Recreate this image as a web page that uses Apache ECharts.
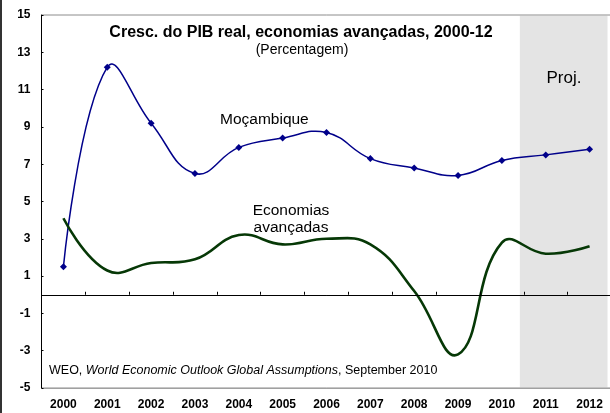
<!DOCTYPE html>
<html>
<head>
<meta charset="utf-8">
<script src="https://cdn.jsdelivr.net/npm/echarts@6/dist/echarts.min.js"></script>
<style>html,body{margin:0;padding:0;background:#fff}#chart{width:610px;height:413px}</style>
</head>
<body>
<div id="chart"></div>
<script>
var years = ['2000', '2001', '2002', '2003', '2004', '2005', '2006', '2007', '2008', '2009', '2010', '2011', '2012'];
var mozambique = [1.5, 12.2, 9.2, 6.5, 7.9, 8.4, 8.7, 7.3, 6.8, 6.4, 7.2, 7.5, 7.8];
var advanced = [4.1, 1.3, 1.7, 1.9, 3.2, 2.7, 3.0, 2.7, 0.2, -3.2, 2.8, 2.2, 2.6];
var yTicks = [-5, -3, -1, 1, 3, 5, 7, 9, 11, 13, 15];

var FONT = 'Liberation Sans';
var myChart = echarts.init(document.getElementById('chart'));

// Excel-like smoothed curve (may overshoot), drawn once through all points
function curve(values, color, width) {
  return {
    type: 'custom', xAxisIndex: 0, yAxisIndex: 0, z: 3, silent: true,
    data: values.map(function (v, i) { return [i, v]; }),
    encode: { x: 0, y: 1 },
    renderItem: function (params, api) {
      if (params.dataIndex !== 0) return;
      var pts = values.map(function (v, i) { return api.coord([i, v]); });
      return {
        type: 'polyline',
        shape: { points: pts, smooth: 0.44 },
        style: { stroke: color, lineWidth: width, fill: null }
      };
    }
  };
}

var option = {
  animation: false,
  backgroundColor: '#fff',
  grid: {
    left: 41.5, top: 15, width: 570, height: 373,
    outerBoundsMode: 'none', containLabel: false,
    show: true, borderColor: '#8c8c8c', borderWidth: 1, backgroundColor: 'transparent'
  },
  xAxis: [
    {
      type: 'category', data: years, position: 'bottom',
      axisLine: { onZero: false, lineStyle: { color: '#a0a0a0', width: 1 } },
      axisTick: { show: false },
      axisLabel: { color: '#000', fontFamily: FONT, fontWeight: 'bold', fontSize: 12, margin: 11 }
    },
    {
      // zero line, ticks pointing up
      type: 'category', data: years, position: 'bottom', z: 6,
      axisLine: { onZero: true, lineStyle: { color: '#000', width: 1 } },
      axisTick: { show: true, inside: true, length: 3, lineStyle: { color: '#000' } },
      axisLabel: { show: false }
    },
    {
      // hidden axis for the projection band
      type: 'value', min: -0.5, max: 12.5, show: false
    }
  ],
  yAxis: {
    type: 'value', min: -5, max: 15,
    splitLine: { show: false },
    axisLine: { show: true, onZero: false, lineStyle: { color: '#000', width: 1 } },
    axisTick: { show: true, inside: true, length: 2, customValues: yTicks, lineStyle: { color: '#000' } },
    axisLabel: { color: '#000', fontFamily: FONT, fontWeight: 'bold', fontSize: 12, margin: 11, customValues: yTicks }
  },
  series: [
    curve(mozambique, '#00008a', 1.5),
    curve(advanced, '#063806', 2.6),
    {
      name: 'Moçambique', type: 'line', data: mozambique, xAxisIndex: 0,
      symbol: 'diamond', symbolSize: 7, showAllSymbol: true,
      itemStyle: { color: '#00008a' },
      lineStyle: { opacity: 0 },
      z: 4
    },
    {
      name: 'proj', type: 'line', data: [], xAxisIndex: 2, z: 5,
      markArea: {
        silent: true,
        itemStyle: { color: 'rgba(190,190,190,0.42)', borderWidth: 0 },
        data: [[{ xAxis: 10.41 }, { xAxis: 12.41 }]]
      }
    }
  ],
  graphic: [
    { type: 'line', shape: { x1: 1, y1: 0, x2: 1, y2: 413 }, style: { stroke: '#333', lineWidth: 2 } },
    { type: 'text', x: 301, y: 33, style: { text: 'Cresc. do PIB real, economias avançadas, 2000-12', font: 'bold 16px "Liberation Sans"', fill: '#000', textAlign: 'center', textVerticalAlign: 'middle' } },
    { type: 'text', x: 302, y: 50, style: { text: '(Percentagem)', font: '14px "Liberation Sans"', fill: '#000', textAlign: 'center', textVerticalAlign: 'middle' } },
    { type: 'text', x: 220, y: 120, style: { text: 'Moçambique', font: '15.5px "Liberation Sans"', fill: '#000', textVerticalAlign: 'middle' } },
    { type: 'text', x: 291, y: 219, style: { text: 'Economias\navançadas', font: '15.5px "Liberation Sans"', lineHeight: 16.5, fill: '#000', textAlign: 'center', textVerticalAlign: 'middle' } },
    { type: 'text', x: 564, y: 78, z: 10, style: { text: 'Proj.', font: '17px "Liberation Sans"', fill: '#000', textAlign: 'center', textVerticalAlign: 'middle' } },
    { type: 'text', x: 49, y: 371, style: {
      text: '{n|WEO, }{i|World Economic Outlook Global Assumptions}{n|, September 2010}',
      textVerticalAlign: 'middle',
      rich: {
        n: { fontFamily: FONT, fontSize: 12.5, fill: '#000' },
        i: { fontFamily: FONT, fontSize: 12.5, fontStyle: 'italic', fill: '#000' }
      }
    } }
  ]
};

myChart.setOption(option);
</script>
</body>
</html>
